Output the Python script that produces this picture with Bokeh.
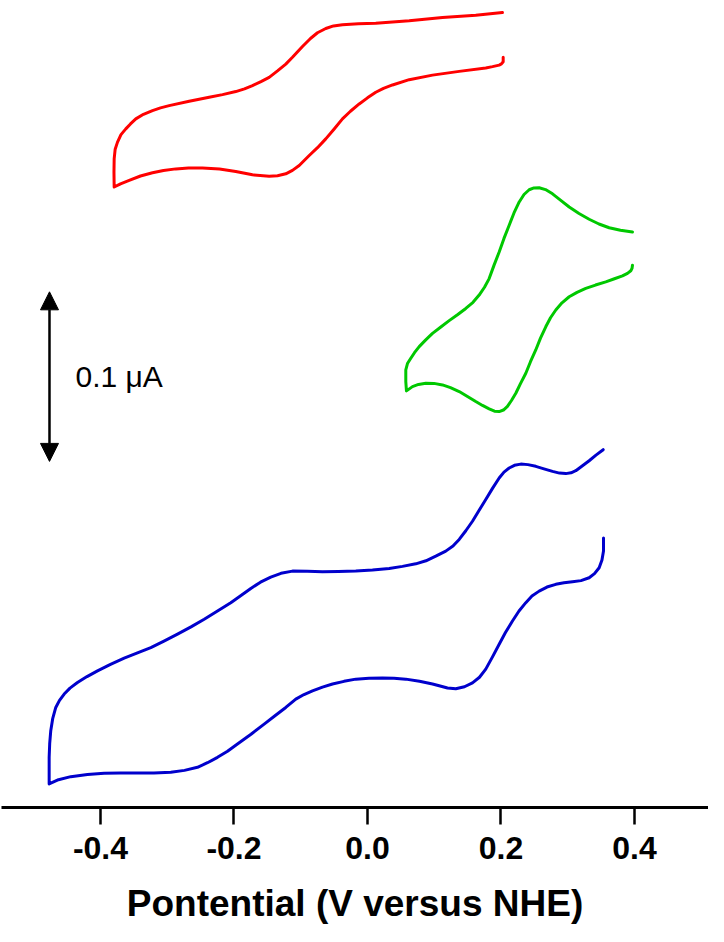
from bokeh.plotting import figure
from bokeh.models import Range1d, FixedTicker, Arrow, NormalHead, Label
from bokeh.embed import file_html
from bokeh.resources import INLINE

# ---- data: potential (V vs NHE) and current (uA, curves offset vertically) ----
red_v = [0.2033, 0.2033, 0.2007, 0.1973, 0.1873, 0.1772, 0.1374, 0.0974, 0.0625, 0.0375,
         0.0240, 0.0124, 0.0000, -0.0124, -0.0255, -0.0375, -0.0502, -0.0625, -0.0749, -0.0873,
         -0.1023, -0.1124, -0.1224, -0.1348, -0.1473, -0.1723, -0.1973, -0.2217, -0.2472, -0.2682,
         -0.2872, -0.3056, -0.3221, -0.3401, -0.3570, -0.3700, -0.3795,
         -0.3798, -0.3795, -0.3780, -0.3745, -0.3693, -0.3621, -0.3551, -0.3471, -0.3356, -0.3221,
         -0.3101, -0.2971, -0.2671, -0.2372, -0.2172, -0.1973, -0.1843, -0.1723, -0.1596, -0.1473,
         -0.1348, -0.1224, -0.1124, -0.0974, -0.0854, -0.0749, -0.0625, -0.0509, -0.0375, -0.0135,
         0.0124, 0.0625, 0.1124, 0.1622, 0.2022]
red_i = [0.4424, 0.4398, 0.4385, 0.4378, 0.4369, 0.4361, 0.4341, 0.4319, 0.4292, 0.4261,
         0.4241, 0.4218, 0.4185, 0.4149, 0.4106, 0.4061, 0.4000, 0.3943, 0.3891, 0.3845,
         0.3786, 0.3757, 0.3737, 0.3726, 0.3722, 0.3731, 0.3751, 0.3765, 0.3771, 0.3771,
         0.3766, 0.3757, 0.3743, 0.3724, 0.3698, 0.3678, 0.3659,
         0.3747, 0.3825, 0.3882, 0.3924, 0.3968, 0.4002, 0.4031, 0.4061, 0.4088, 0.4110,
         0.4126, 0.4139, 0.4165, 0.4188, 0.4204, 0.4222, 0.4238, 0.4257, 0.4281, 0.4306,
         0.4344, 0.4384, 0.4424, 0.4488, 0.4535, 0.4569, 0.4594, 0.4609, 0.4616, 0.4622,
         0.4625, 0.4639, 0.4659, 0.4672, 0.4688]

green_v = [0.3970, 0.3963, 0.3945, 0.3895, 0.3820, 0.3700, 0.3570, 0.3416, 0.3270, 0.3139,
           0.3022, 0.2914, 0.2821, 0.2742, 0.2671, 0.2592, 0.2521, 0.2442, 0.2372, 0.2292,
           0.2222, 0.2157, 0.2097, 0.2037, 0.1973, 0.1903, 0.1823, 0.1723, 0.1622, 0.1498,
           0.1374, 0.1243, 0.1124, 0.0996, 0.0873, 0.0764, 0.0674, 0.0584,
           0.0574, 0.0574, 0.0599, 0.0649, 0.0704, 0.0775, 0.0869, 0.0974, 0.1094, 0.1224,
           0.1348, 0.1473, 0.1581, 0.1673, 0.1753, 0.1823, 0.1895, 0.1973, 0.2045, 0.2123,
           0.2195, 0.2273, 0.2345, 0.2422, 0.2494, 0.2572, 0.2667, 0.2772, 0.2891, 0.3022,
           0.3169, 0.3321, 0.3468, 0.3621, 0.3790, 0.3970]
green_i = [0.3198, 0.3179, 0.3165, 0.3150, 0.3135, 0.3118, 0.3100, 0.3081, 0.3061, 0.3038,
           0.3012, 0.2976, 0.2934, 0.2888, 0.2835, 0.2768, 0.2698, 0.2629, 0.2561, 0.2500,
           0.2443, 0.2400, 0.2365, 0.2344, 0.2335, 0.2337, 0.2351, 0.2371, 0.2394, 0.2424,
           0.2453, 0.2476, 0.2492, 0.2501, 0.2502, 0.2495, 0.2482, 0.2457,
           0.2512, 0.2581, 0.2618, 0.2649, 0.2682, 0.2718, 0.2756, 0.2796, 0.2832, 0.2871,
           0.2906, 0.2943, 0.2979, 0.3022, 0.3068, 0.3119, 0.3197, 0.3276, 0.3356, 0.3434,
           0.3506, 0.3571, 0.3615, 0.3643, 0.3654, 0.3655, 0.3644, 0.3619, 0.3582, 0.3541,
           0.3503, 0.3469, 0.3441, 0.3419, 0.3404, 0.3394]

blue_v = [0.3536, 0.3536, 0.3513, 0.3471, 0.3401, 0.3321, 0.3199, 0.3071, 0.2944, 0.2821,
          0.2689, 0.2572, 0.2464, 0.2372, 0.2270, 0.2172, 0.2067, 0.1973, 0.1873, 0.1772,
          0.1678, 0.1573, 0.1453, 0.1323, 0.1199, 0.1074, 0.0974, 0.0779, 0.0574, 0.0397,
          0.0225, 0.0022, -0.0175, -0.0352, -0.0524, -0.0674, -0.0824, -0.0951, -0.1074, -0.1224,
          -0.1386, -0.1548, -0.1745, -0.1948, -0.2097, -0.2247, -0.2397, -0.2547, -0.2742, -0.2947,
          -0.3199, -0.3446, -0.3700, -0.3945, -0.4195, -0.4445, -0.4629, -0.4769,
          -0.4769, -0.4761, -0.4745, -0.4715, -0.4670, -0.4614, -0.4544, -0.4457, -0.4345, -0.4202,
          -0.4045, -0.3850, -0.3645, -0.3446, -0.3246, -0.3049, -0.2846, -0.2644, -0.2446, -0.2247,
          -0.2048, -0.1895, -0.1748, -0.1603, -0.1449, -0.1296, -0.1124, -0.0899, -0.0674, -0.0434,
          -0.0175, 0.0075, 0.0325, 0.0524, 0.0724, 0.0876, 0.1023, 0.1173, 0.1281, 0.1374,
          0.1473, 0.1573, 0.1673, 0.1772, 0.1873, 0.1973, 0.2045, 0.2123, 0.2202, 0.2297,
          0.2404, 0.2521, 0.2644, 0.2772, 0.2876, 0.2971, 0.3049, 0.3121, 0.3221, 0.3321,
          0.3423, 0.3531]
blue_i = [0.1590, 0.1512, 0.1459, 0.1414, 0.1379, 0.1355, 0.1338, 0.1331, 0.1325, 0.1316,
          0.1300, 0.1276, 0.1247, 0.1208, 0.1159, 0.1100, 0.1032, 0.0963, 0.0888, 0.0816,
          0.0768, 0.0735, 0.0712, 0.0700, 0.0705, 0.0718, 0.0728, 0.0744, 0.0757, 0.0762,
          0.0763, 0.0762, 0.0757, 0.0744, 0.0728, 0.0710, 0.0688, 0.0666, 0.0639, 0.0590,
          0.0541, 0.0492, 0.0432, 0.0375, 0.0332, 0.0296, 0.0264, 0.0237, 0.0219, 0.0208,
          0.0204, 0.0204, 0.0204, 0.0202, 0.0194, 0.0182, 0.0164, 0.0139,
          0.0296, 0.0376, 0.0453, 0.0526, 0.0590, 0.0632, 0.0669, 0.0704, 0.0737, 0.0772,
          0.0806, 0.0844, 0.0881, 0.0912, 0.0943, 0.0981, 0.1022, 0.1065, 0.1110, 0.1159,
          0.1208, 0.1250, 0.1292, 0.1329, 0.1359, 0.1381, 0.1394, 0.1393, 0.1390, 0.1391,
          0.1394, 0.1400, 0.1410, 0.1422, 0.1437, 0.1455, 0.1482, 0.1512, 0.1542, 0.1581,
          0.1632, 0.1688, 0.1753, 0.1816, 0.1882, 0.1943, 0.1978, 0.2002, 0.2018, 0.2025,
          0.2022, 0.2012, 0.1997, 0.1982, 0.1972, 0.1969, 0.1974, 0.1986, 0.2015, 0.2045,
          0.2078, 0.2110]

tick_values = [-0.4, -0.2, 0.0, 0.2, 0.4]
tick_labels = ["-0.4", "-0.2", "0.0", "0.2", "0.4"]

scale_bar_x = -0.4764
scale_bar_bottom = 0.2041
scale_bar_top = 0.3041          # 0.1 uA span
scale_label = "0.1 \u03bcA"
x_label = "Pontential (V versus NHE)"

FONT = "Liberation Sans"

p = figure(width=708, height=926, output_backend="svg", toolbar_location=None,
           x_range=Range1d(-0.5483, 0.5109), y_range=Range1d(0.0, 0.4759),
           y_axis_location=None, min_border_left=1, min_border_right=0,
           min_border_top=0, min_border_bottom=117)
p.outline_line_color = None
p.xgrid.visible = False
p.ygrid.visible = False
p.background_fill_color = "white"

p.line(red_v, red_i, line_color="#ff0000", line_width=3, line_join="round", line_cap="round")
p.line(green_v, green_i, line_color="#00c800", line_width=3, line_join="round", line_cap="round")
p.line(blue_v, blue_i, line_color="#0000cc", line_width=3, line_join="round", line_cap="round")

ax = p.xaxis[0]
ax.ticker = FixedTicker(ticks=tick_values)
ax.major_label_overrides = {v: s for v, s in zip(tick_values, tick_labels)}
ax.axis_line_width = 3
ax.axis_line_color = "black"
ax.major_tick_line_width = 2.5
ax.major_tick_line_color = "black"
ax.major_tick_out = 17
ax.major_tick_in = 0
ax.minor_tick_out = 0
ax.minor_tick_in = 0
ax.major_label_text_font = FONT
ax.major_label_text_font_style = "bold"
ax.major_label_text_font_size = "32px"
ax.major_label_text_color = "black"
ax.major_label_standoff = 12
ax.axis_label = x_label
ax.axis_label_text_font = FONT
ax.axis_label_text_font_style = "bold"
ax.axis_label_text_font_size = "37px"
ax.axis_label_text_color = "black"
ax.axis_label_standoff = 21

arrow = Arrow(start=NormalHead(size=18, fill_color="black", line_color="black"),
              end=NormalHead(size=18, fill_color="black", line_color="black"),
              x_start=scale_bar_x, y_start=scale_bar_bottom,
              x_end=scale_bar_x, y_end=scale_bar_top,
              line_color="black", line_width=2.5)
p.add_layout(arrow)

lbl = Label(x=scale_bar_x + 0.0389, y=(scale_bar_bottom + scale_bar_top) / 2, text=scale_label,
            text_font=FONT, text_font_size="30px", text_color="black",
            text_baseline="middle", text_align="left")
p.add_layout(lbl)

open("out.html", "w").write(file_html(p, INLINE))
